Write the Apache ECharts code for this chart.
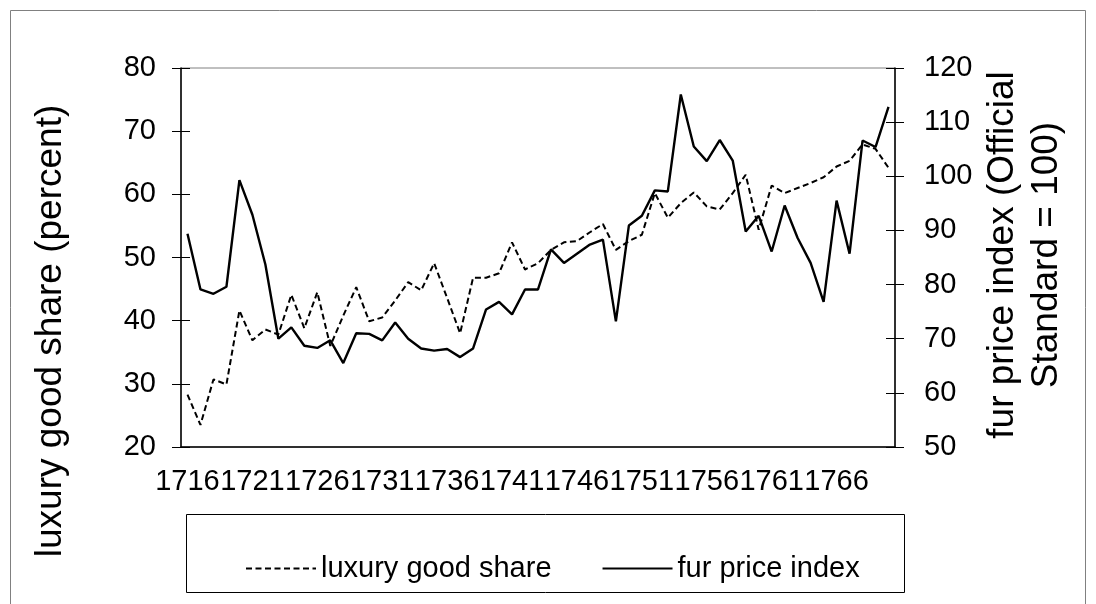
<!DOCTYPE html>
<html>
<head>
<meta charset="utf-8">
<title>luxury good share and fur price index</title>
<script src="https://cdn.jsdelivr.net/npm/echarts@6/dist/echarts.min.js"></script>
<style>
  html,body{margin:0;padding:0;background:#fff;}
  #chart{width:1096px;height:604px;}
</style>
</head>
<body>
<div id="chart"></div>
<script>
var years = ["1716","1717","1718","1719","1720","1721","1722","1723","1724","1725",
  "1726","1727","1728","1729","1730","1731","1732","1733","1734","1735",
  "1736","1737","1738","1739","1740","1741","1742","1743","1744","1745",
  "1746","1747","1748","1749","1750","1751","1752","1753","1754","1755",
  "1756","1757","1758","1759","1760","1761","1762","1763","1764","1765",
  "1766","1767","1768","1769","1770"];

// luxury good share (percent), left axis
var luxuryShare = [28.3,23.5,30.7,29.9,41.6,36.9,38.6,37.8,44.1,38.8,
  44.5,36.0,40.8,45.3,39.9,40.5,43.2,46.1,44.8,49.1,
  43.6,38.0,46.8,46.8,47.5,52.4,48.1,49.1,51.2,52.4,
  52.6,54.0,55.3,51.2,52.6,53.6,60.2,56.3,58.6,60.3,
  58.1,57.6,60.2,63.1,54.4,61.4,60.2,61.0,61.8,62.7,
  64.4,65.3,67.9,67.2,64.2];

// fur price index (Official Standard = 100), right axis
var furPrice = [89.4,79.1,78.3,79.6,99.3,92.9,83.7,70.0,72.1,68.7,
  68.3,69.7,65.5,71.0,70.9,69.7,73.0,70.0,68.2,67.8,
  68.1,66.6,68.2,75.4,76.8,74.5,79.1,79.1,86.5,84.0,
  85.7,87.4,88.3,73.2,90.9,92.7,97.4,97.2,115.1,105.5,
  102.8,106.7,102.9,89.8,92.7,86.1,94.6,88.6,84.0,76.8,
  95.5,85.7,106.6,105.4,112.8];

var FONT = "'Liberation Sans', Arial, sans-serif";

var myChart = echarts.init(document.getElementById('chart'));

function valueAxis(pos, min, max, show, inside){
  return {
    type:'value', position:pos, min:min, max:max, interval:10,
    splitLine:{show:false},
    axisLine:{show:show, lineStyle:{color:'#000', width:1.5}},
    axisTick:{show:true, inside:inside, length:9, lineStyle:{color:'#000', width:1}},
    axisLabel:{show:show, margin:pos=='left'?25:29, color:'#000', fontSize:29, fontFamily:FONT}
  };
}

var option = {
  animation:false,
  backgroundColor:'#fff',
  grid:{left:181, top:68, width:714, height:379, show:true, borderColor:'#808080', borderWidth:1},
  xAxis:[{
    type:'category', data:years, boundaryGap:true,
    axisLine:{lineStyle:{color:'#000', width:1.5}},
    axisTick:{interval:4, length:8, lineStyle:{color:'#000', width:1}},
    axisLabel:{interval:4, margin:20, color:'#000', fontSize:29, fontFamily:FONT}
  },{
    // same axis again, only to draw the upper half of the crossing ticks
    type:'category', data:years, boundaryGap:true, position:'bottom',
    axisLine:{show:false},
    axisTick:{inside:true, interval:4, length:7, lineStyle:{color:'#000', width:1}},
    axisLabel:{show:false}
  }],
  yAxis:[
    valueAxis('left', 20, 80, true, false),
    valueAxis('right', 50, 120, true, false),
    valueAxis('left', 20, 80, false, true),
    valueAxis('right', 50, 120, false, true)
  ],
  legend:{
    left:240, top:549,
    itemWidth:70, itemHeight:14, itemGap:50,
    itemStyle:{opacity:0},
    textStyle:{color:'#000', fontSize:29, fontFamily:FONT},
    data:['luxury good share','fur price index']
  },
  graphic:[
    {type:'rect', silent:true, shape:{x:10.5, y:10.5, width:1075, height:640},
      style:{fill:null, stroke:'#808080', lineWidth:1}},
    {type:'rect', silent:true, shape:{x:186.5, y:514.5, width:718, height:78},
      style:{fill:null, stroke:'#000', lineWidth:1}},
    /*左轴标题*/
    {type:'text', x:51, y:331, rotation:Math.PI/2,
      style:{text:'luxury good share (percent)', fill:'#000', font:'37px '+FONT,
        textAlign:'center', textVerticalAlign:'middle'}},
    /*右轴标题*/
    {type:'text', x:1025, y:255, rotation:Math.PI/2,
      style:{text:'fur price index (Official\nStandard = 100)', fill:'#000', font:'37px '+FONT,
        lineHeight:44, textAlign:'center', textVerticalAlign:'middle'}}
  ],
  series:[{
    name:'luxury good share', type:'line', xAxisIndex:0, yAxisIndex:0,
    symbol:'none', data:luxuryShare,
    lineStyle:{color:'#000', width:2, type:[6,3.5]},
    itemStyle:{color:'#000'}
  },{
    name:'fur price index', type:'line', xAxisIndex:0, yAxisIndex:1,
    symbol:'none', data:furPrice,
    lineStyle:{color:'#000', width:2.4, type:'solid'},
    itemStyle:{color:'#000'}
  }]
};
myChart.setOption(option);
</script>
</body>
</html>
